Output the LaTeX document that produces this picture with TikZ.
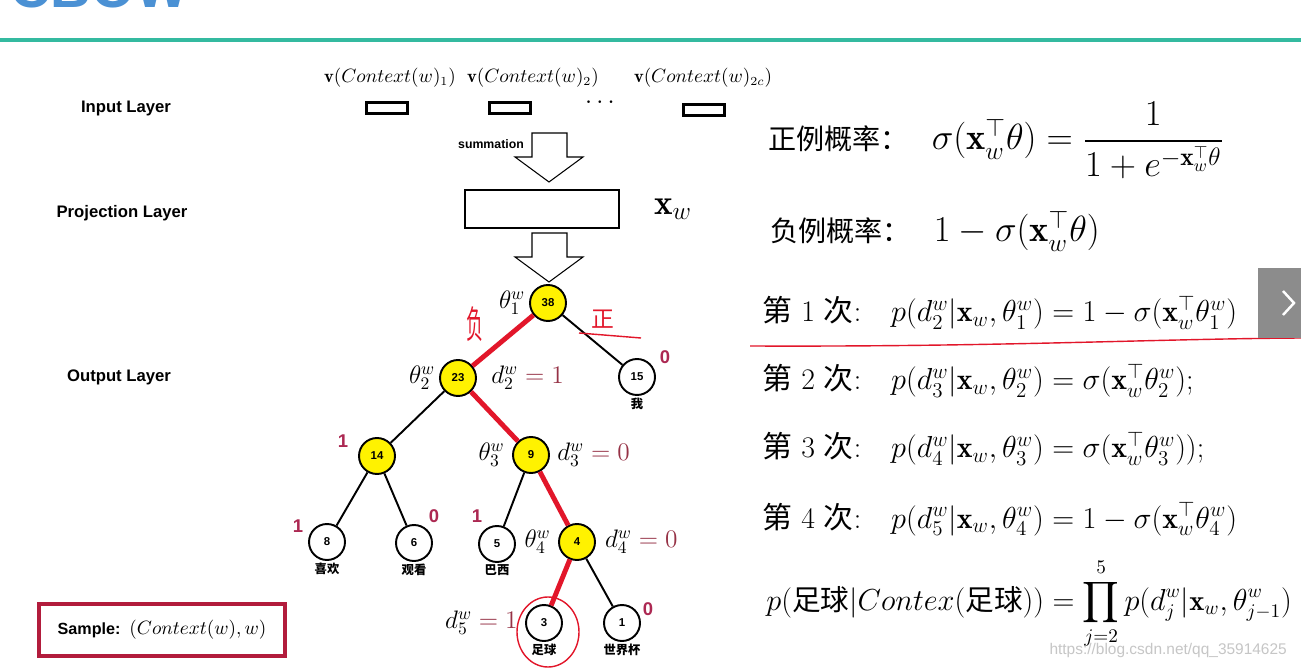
\documentclass[tikz,border=0pt]{standalone}
\usepackage{amsmath,amssymb}
\usepackage{fontspec}
\setsansfont{Liberation Sans}
\newfontfamily\cjk{Noto Sans CJK SC}
\usepackage{xcolor}
\usepackage{tikz}
\usetikzlibrary{shapes,arrows,positioning,fit,backgrounds}

\definecolor{tealbar}{RGB}{52,186,160}
\definecolor{titleblue}{RGB}{75,145,212}
\definecolor{bitred}{RGB}{172,40,82}
\definecolor{pathred}{RGB}{226,22,42}
\definecolor{darkred}{RGB}{150,50,70}
\definecolor{samplered}{RGB}{178,28,60}
\definecolor{btngray}{RGB}{140,140,140}

\begin{document}
\begin{tikzpicture}[
            x=0.02cm, y=-0.02cm,
            node distance=0.5cm,
            hnode/.style={circle, draw, line width=1.1pt, fill=yellow, minimum size=0.72cm, inner sep=0pt, font=\sffamily\bfseries\fontsize{6.5}{7}\selectfont},
            leafnode/.style={hnode, fill=white},
            branch/.style={draw, line width=1.1pt},
            hpath/.style={draw, line width=2.8pt, pathred},
            lay/.style={font=\sffamily\bfseries\fontsize{9.5}{11}\selectfont},
            word/.style={font=\cjk\bfseries\fontsize{7}{8}\selectfont, inner sep=1pt},
            bit/.style={font=\sffamily\bfseries\fontsize{10.5}{12}\selectfont, text=bitred},
            lbl/.style={font=\fontsize{14}{16}\selectfont, inner sep=0pt},
            vlbl/.style={font=\fontsize{10.5}{12}\selectfont},
            vbox/.style={rectangle, draw, line width=1.6pt, minimum width=0.82cm, minimum height=0.22cm, inner sep=0pt},
            eq/.style={anchor=base west, font=\fontsize{17}{20}\selectfont, inner sep=0pt},
            bigeq/.style={eq, font=\fontsize{20.7}{24}\selectfont},
            blockarrow/.style={draw, line width=0.6pt, fill=white},
            hand/.style={pathred, line width=0.8pt}
        ]
        \useasboundingbox (0,0) rectangle (1301,668);
        \clip (0,0) rectangle (1301,668);
        \fill[white] (0,0) rectangle (1301,668);

        % Title and bar
        \node[anchor=base west, inner sep=0pt, text=titleblue, font=\sffamily\bfseries\fontsize{32}{34}\selectfont] (title) at (10,8) {CBOW};
        \fill[tealbar] (0,38) rectangle (1301,42);

        % Layer names
        \node[lay] (inlay) at (126,108) {Input Layer};
        \node[lay] (projlay) at (122,213) {Projection Layer};
        \node[lay] (outlay) at (119,377) {Output Layer};

        % Input vectors
        \node[vbox] (v1) at (387,108) {};
        \node[vbox] (v2) at (510,108) {};
        \node[font=\fontsize{14}{14}\selectfont] (dots) at (602,103) {$\cdots$};
        \node[vbox] (v3) at (704,110) {};
        \node[vlbl] (c1) at (390,78) {$\mathbf{v}(Context(w)_1)$};
        \node[vlbl] (c2) at (533,78) {$\mathbf{v}(Context(w)_2)$};
        \node[vlbl] (c3) at (703,78) {$\mathbf{v}(Context(w)_{2c})$};

        % Projection
        \node[font=\sffamily\bfseries\fontsize{7}{8}\selectfont] (sum) at (491,144) {summation};
        \draw[blockarrow] (532,133) -- (567,133) -- (567,157) -- (583,157) -- (549,182) -- (515,157) -- (532,157) -- cycle;
        \node[rectangle, draw, line width=1.6pt, minimum width=3.08cm, minimum height=0.76cm, inner sep=0pt] (proj) at (542,209) {};
        \node[right=0.55cm of proj, font=\fontsize{20}{22}\selectfont] (xw) {$\mathbf{x}_w$};
        \draw[blockarrow] (532,233) -- (567,233) -- (567,257) -- (583,257) -- (549,282) -- (515,257) -- (532,257) -- cycle;

        % Huffman tree
        \node[hnode] (n38) at (548,303) {38};
        \node[hnode] (n23) at (458,378) {23};
        \node[leafnode] (n15) at (637,377) {15};
        \node[hnode] (n14) at (377,456) {14};
        \node[hnode] (n9) at (531,455) {9};
        \node[leafnode] (n8) at (327,542) {8};
        \node[leafnode] (n6) at (414,543) {6};
        \node[leafnode] (n5) at (497,544) {5};
        \node[hnode] (n4) at (577,542) {4};
        \node[leafnode] (n3) at (544,623) {3};
        \node[leafnode] (n1) at (622,623) {1};

        \path[branch] (n38) -- (n15);
        \path[branch] (n23) -- (n14);
        \path[branch] (n14) -- (n8);
        \path[branch] (n14) -- (n6);
        \path[branch] (n9) -- (n5);
        \path[branch] (n4) -- (n1);
        \path[hpath] (n38) -- (n23);
        \path[hpath] (n23) -- (n9);
        \path[hpath] (n9) -- (n4);
        \path[hpath] (n4) -- (n3);

        % Words
        \node[word, below=0pt of n15] {我};
        \node[word, below=0pt of n8] {喜欢};
        \node[word, below=0pt of n6] {观看};
        \node[word, below=0pt of n5] {巴西};
        \node[word, below=0pt of n3] {足球};
        \node[word, below=0pt of n1] {世界杯};

        % Parameters and codes
        \node[lbl, left=2pt of n38] (t1) {$\theta_1^w$};
        \node[lbl, left=2pt of n23] (t2) {$\theta_2^w$};
        \node[lbl, left=4pt of n9] (t3) {$\theta_3^w$};
        \node[lbl, left=4pt of n4] (t4) {$\theta_4^w$};
        \node[lbl, right=8pt of n23] (d2) {$d_2^w\textcolor{darkred}{\;=1}$};
        \node[lbl, right=4pt of n9] (d3) {$d_3^w\textcolor{darkred}{\;=0}$};
        \node[lbl, right=5pt of n4] (d4) {$d_4^w\textcolor{darkred}{\;=0}$};
        \node[lbl, left=4pt of n3] (d5) {$d_5^w\textcolor{darkred}{\;=1}$};

        \node[bit] at (665,357) {0};
        \node[bit] at (343,441) {1};
        \node[bit] at (298,526) {1};
        \node[bit] at (434,516) {0};
        \node[bit] at (477,516) {1};
        \node[bit] at (648,609) {0};

        % Hand marks
        \node[text=pathred, font=\cjk\fontsize{12}{12}\selectfont, xscale=0.8, yscale=1.8] at (475,324) {负};
        \node[text=pathred, font=\cjk\fontsize{13}{13}\selectfont] at (603,319) {正};
        \draw[hand] (579,333) -- (641,338);
        \draw[hand] (548,632) ellipse (31 and 35);
        \draw[hand] (750,346) .. controls (1000,347) and (1150,339) .. (1301,338);

        % Sample
        \node[draw=samplered, line width=2.2pt, minimum width=4.92cm, minimum height=1.04cm] (sample) at (162,630) {\sffamily\bfseries\fontsize{9.2}{11}\selectfont Sample:\ \ \normalfont\fontsize{10.5}{12}\selectfont$(Context(w),w)$};

        % Formulas
        \node[bigeq] (pos) at (768,150) {{\cjk\fontsize{16}{18}\selectfont 正例概率：}\hspace{13pt}$\sigma(\mathbf{x}_w^{\top}\theta)=\dfrac{1}{1+e^{-\mathbf{x}_w^{\top}\theta}}$};
        \node[bigeq] (neg) at (770,242) {{\cjk\fontsize{16}{18}\selectfont 负例概率：}\hspace{13pt}$1-\sigma(\mathbf{x}_w^{\top}\theta)$};
        \node[eq] (s1) at (762,322) {{\cjk 第} 1 {\cjk 次}:\quad $p(d_2^w|\mathbf{x}_w,\theta_1^w)=1-\sigma(\mathbf{x}_w^{\top}\theta_1^w)$};
        \node[eq] (s2) at (762,390) {{\cjk 第} 2 {\cjk 次}:\quad $p(d_3^w|\mathbf{x}_w,\theta_2^w)=\sigma(\mathbf{x}_w^{\top}\theta_2^w)$;};
        \node[eq] (s3) at (762,458) {{\cjk 第} 3 {\cjk 次}:\quad $p(d_4^w|\mathbf{x}_w,\theta_3^w)=\sigma(\mathbf{x}_w^{\top}\theta_3^w))$;};
        \node[eq] (s4) at (762,528) {{\cjk 第} 4 {\cjk 次}:\quad $p(d_5^w|\mathbf{x}_w,\theta_4^w)=1-\sigma(\mathbf{x}_w^{\top}\theta_4^w)$};
        \node[eq, font=\fontsize{16.3}{19}\selectfont] (prod) at (766,610) {$p(\text{\cjk 足球}|Contex(\text{\cjk 足球}))=\displaystyle\prod_{j=2}^{5}p(d_j^w|\mathbf{x}_w,\theta_{j-1}^w)$};

        % Slide button and watermark
        \fill[btngray] (1258,268) rectangle (1301,338);
        \draw[white, line width=1.4pt] (1283,291) -- (1294,303) -- (1283,315);
        \node[anchor=east, text=gray!45, font=\sffamily\fontsize{8.8}{10}\selectfont] (wm) at (1293,650) {https://blog.csdn.net/qq\_35914625};

    \end{tikzpicture}
\end{document}
